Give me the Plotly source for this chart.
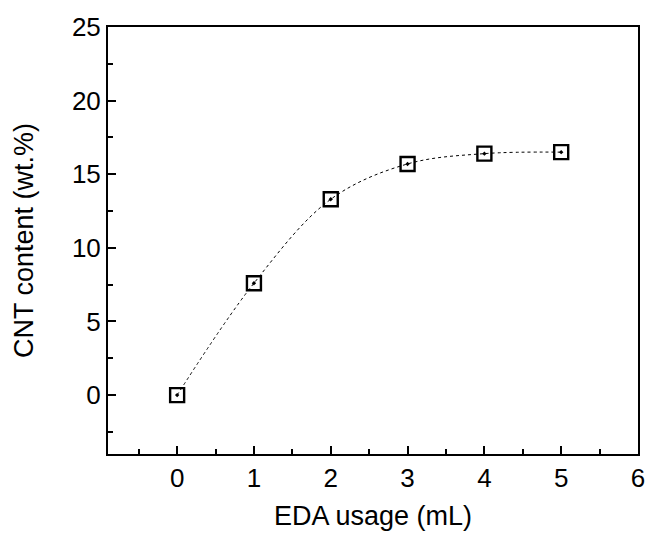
import plotly.graph_objects as go

eda_usage = [0, 1, 2, 3, 4, 5]
cnt_content = [0.0, 7.6, 13.3, 15.7, 16.4, 16.5]
x_ticks = [0, 1, 2, 3, 4, 5, 6]
y_ticks = [0, 5, 10, 15, 20, 25]

fig = go.Figure()
fig.add_trace(go.Scatter(
    x=eda_usage, y=cnt_content, mode="lines+markers",
    line=dict(color="black", width=1, dash="dot", shape="spline", smoothing=1.0),
    marker=dict(symbol="square-open-dot", size=14, color="black",
                line=dict(color="black", width=2.4)),
    showlegend=False,
))

font = "Liberation Sans, Arial, sans-serif"
fig.update_layout(
    width=649, height=534,
    margin=dict(l=108, r=11, t=27, b=80),
    plot_bgcolor="white", paper_bgcolor="white",
    font=dict(family=font, size=26, color="black"),
)
fig.update_xaxes(
    range=[-0.9, 6], tickvals=x_ticks, ticktext=[str(v) for v in x_ticks],
    ticks="inside", ticklen=8, tickwidth=2, tickcolor="black",
    minor=dict(ticks="inside", ticklen=5, tickwidth=2, dtick=0.5, tick0=0, tickcolor="black"),
    showline=True, linewidth=2, linecolor="black", mirror=True,
    showgrid=False, zeroline=False, automargin=False,
    title=dict(text="EDA usage (mL)", font=dict(size=27), standoff=14),
    tickfont=dict(size=26),
)
fig.update_yaxes(
    range=[-4, 25], tickvals=y_ticks, ticktext=[str(v) for v in y_ticks],
    ticks="inside", ticklen=8, tickwidth=2, tickcolor="black",
    minor=dict(ticks="inside", ticklen=5, tickwidth=2, dtick=2.5, tick0=0, tickcolor="black"),
    showline=True, linewidth=2, linecolor="black", mirror=True,
    showgrid=False, zeroline=False, automargin=False,
    title=dict(text="CNT content (wt.%)", font=dict(size=27), standoff=30),
    tickfont=dict(size=26),
)
fig.write_html("out.html")
